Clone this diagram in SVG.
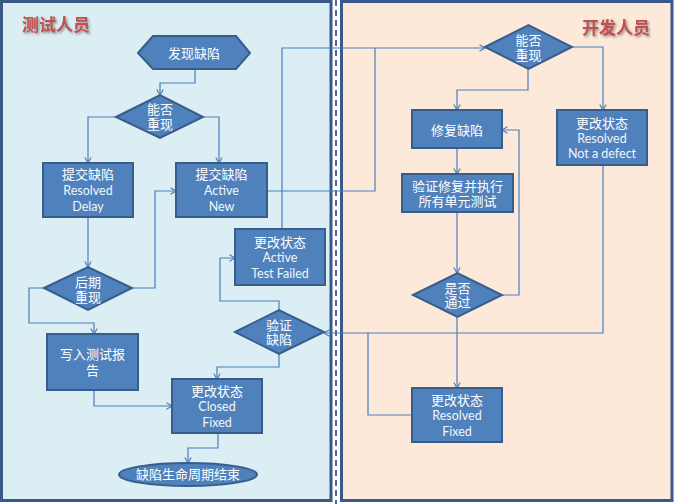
<svg xmlns="http://www.w3.org/2000/svg" width="674" height="504" viewBox="0 0 674 504">
<defs>
<style>
.node{fill:#4f81bd;stroke:#385d8a;stroke-width:2}
.t{font-family:"Liberation Sans","Noto Sans CJK SC",sans-serif;font-size:13px;fill:#ffffff;text-anchor:middle}
.e{font-family:Lato,"Liberation Sans",sans-serif;font-size:12.5px;fill:#f2f6fb}
.title{font-family:"Noto Sans CJK SC",sans-serif;font-size:17px;font-weight:bold;fill:#c0504d;filter:url(#sh)}
.c{fill:none;stroke:#4a7ebb;stroke-width:1.2}
</style>
<filter id="sh" x="-20%" y="-30%" width="150%" height="170%">
<feDropShadow dx="1.5" dy="1.5" stdDeviation="0.8" flood-color="#7a7a7a" flood-opacity="0.8"/>
</filter>
<marker id="a" markerUnits="userSpaceOnUse" markerWidth="8" markerHeight="8" refX="6" refY="4" orient="auto">
<path d="M0.5,0.8 L6,4 L0.5,7.2" fill="none" stroke="#4a7ebb" stroke-width="1.2"/>
</marker>
</defs>
<rect width="674" height="504" fill="#ffffff"/>
<g id="lanes">
<rect x="1.5" y="1.5" width="329.5" height="499" fill="#dbeef4" stroke="#39598a" stroke-width="3"/>
<rect x="341.5" y="1.5" width="330.5" height="499" fill="#fde9d9" stroke="#39598a" stroke-width="3"/>
<line x1="336" y1="0" x2="336" y2="504" stroke="#4a6a9a" stroke-width="2" stroke-dasharray="6,4"/>
<text class="title" x="56" y="31" text-anchor="middle">测试人员</text>
<text class="title" x="616" y="34" text-anchor="middle">开发人员</text>
</g>
<g id="connectors">
<path class="c" d="M195,69 V83 H160 V95" marker-end="url(#a)"/>
<path class="c" d="M116,117 H88 V163" marker-end="url(#a)"/>
<path class="c" d="M203,117 H219 V163" marker-end="url(#a)"/>
<path class="c" d="M88,217 V267" marker-end="url(#a)"/>
<path class="c" d="M132,288 H155 V191 H176" marker-end="url(#a)"/>
<path class="c" d="M44,288 H29 V323 H94 V334" marker-end="url(#a)"/>
<path class="c" d="M94,390 V406 H172" marker-end="url(#a)"/>
<path class="c" d="M218,433 V448 H188 V463" marker-end="url(#a)"/>
<path class="c" d="M279,354 V367 H217 V379" marker-end="url(#a)"/>
<path class="c" d="M279,310 V301 H220 V258 H235" marker-end="url(#a)"/>
<path class="c" d="M282,229 V48 H485" marker-end="url(#a)"/>
<path class="c" d="M267,191 H375 V48"/>
<path class="c" d="M528,69 V90 H457 V110" marker-end="url(#a)"/>
<path class="c" d="M572,47 H603 V110" marker-end="url(#a)"/>
<path class="c" d="M457,148 V174" marker-end="url(#a)"/>
<path class="c" d="M457,212 V273" marker-end="url(#a)"/>
<path class="c" d="M502,295 H519 V130 H502" marker-end="url(#a)"/>
<path class="c" d="M457,317 V388" marker-end="url(#a)"/>
<path class="c" d="M603,165 V333 H324" marker-end="url(#a)"/>
<path class="c" d="M412,415 H368 V333"/>
</g>
<g id="n-find">
<polygon class="node" points="138,53 153,36 236,36 250,53 236,69 153,69"/>
<text class="t" x="194" y="57.5">发现缺陷</text>
</g>
<g id="n-repro1">
<polygon class="node" points="116,117 160,95 203,117 160,138"/>
<text class="t" x="160" y="114">能否<tspan x="160" dy="14.5">重现</tspan></text>
</g>
<g id="n-delay">
<rect class="node" x="43" y="163" width="90" height="54"/>
<text class="t" x="88" y="179">提交缺陷<tspan class="e" x="88" dy="16">Resolved</tspan><tspan class="e" x="88" dy="15.5">Delay</tspan></text>
</g>
<g id="n-new">
<rect class="node" x="176" y="163" width="91" height="54"/>
<text class="t" x="221.5" y="179">提交缺陷<tspan class="e" x="221.5" dy="16">Active</tspan><tspan class="e" x="221.5" dy="15.5">New</tspan></text>
</g>
<g id="n-testfailed">
<rect class="node" x="235" y="229" width="90" height="56"/>
<text class="t" x="280" y="246.5">更改状态<tspan class="e" x="280" dy="15.5">Active</tspan><tspan class="e" x="280" dy="15.5">Test Failed</tspan></text>
</g>
<g id="n-later">
<polygon class="node" points="44,288 88,267 132,288 88,310"/>
<text class="t" x="88" y="287">后期<tspan x="88" dy="14.5">重现</tspan></text>
</g>
<g id="n-verify">
<polygon class="node" points="235,332 279,310 324,332 279,354"/>
<text class="t" x="279" y="329.5">验证<tspan x="279" dy="14.5">缺陷</tspan></text>
</g>
<g id="n-report">
<rect class="node" x="47" y="334" width="91" height="56"/>
<text class="t" x="92.5" y="359">写入测试报<tspan x="92.5" dy="16">告</tspan></text>
</g>
<g id="n-closed">
<rect class="node" x="172" y="379" width="90" height="54"/>
<text class="t" x="217" y="395.5">更改状态<tspan class="e" x="217" dy="15.5">Closed</tspan><tspan class="e" x="217" dy="15.5">Fixed</tspan></text>
</g>
<g id="n-end">
<ellipse class="node" cx="188" cy="474.5" rx="69" ry="11.5"/>
<text class="t" x="188" y="479">缺陷生命周期结束</text>
</g>
<g id="n-repro2">
<polygon class="node" points="485,47 528.5,25 572,47 528.5,69"/>
<text class="t" x="528.5" y="45">能否<tspan x="528.5" dy="14.5">重现</tspan></text>
</g>
<g id="n-fix">
<rect class="node" x="412" y="110" width="90" height="38"/>
<text class="t" x="457" y="134.5">修复缺陷</text>
</g>
<g id="n-notdefect">
<rect class="node" x="557" y="110" width="90" height="55"/>
<text class="t" x="602" y="127.5">更改状态<tspan class="e" x="602" dy="15">Resolved</tspan><tspan class="e" x="602" dy="15.5">Not a defect</tspan></text>
</g>
<g id="n-unittest">
<rect class="node" x="402" y="174" width="111" height="38"/>
<text class="t" x="457.5" y="190.5">验证修复并执行<tspan x="457.5" dy="15">所有单元测试</tspan></text>
</g>
<g id="n-pass">
<polygon class="node" points="413,295 457.5,273 502,295 457.5,317"/>
<text class="t" x="457.5" y="292.5">是否<tspan x="457.5" dy="14.5">通过</tspan></text>
</g>
<g id="n-fixed">
<rect class="node" x="412" y="388" width="90" height="54"/>
<text class="t" x="457" y="404.5">更改状态<tspan class="e" x="457" dy="15.5">Resolved</tspan><tspan class="e" x="457" dy="15.5">Fixed</tspan></text>
</g>
</svg>
